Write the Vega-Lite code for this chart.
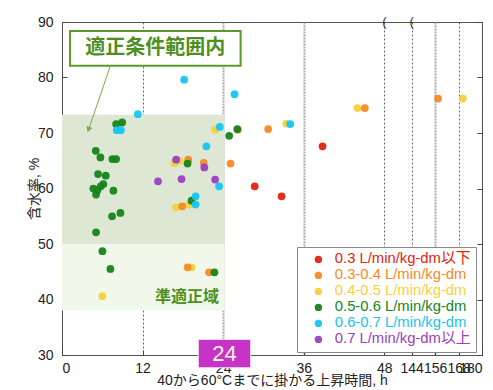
{
  "$schema": "https://vega.github.io/schema/vega-lite/v6.json",
  "width": 420,
  "height": 333,
  "autosize": "none",
  "padding": {"left": 62, "top": 22, "right": 11, "bottom": 35},
  "config": {
    "font": "Liberation Sans, Noto Sans CJK JP",
    "view": {"stroke": "#555", "strokeWidth": 1}
  },
  "resolve": {"axis": {"y": "independent"}},
  "datasets": {
    "pts": [
      {"h": 6.02, "w": 40.6, "c": "0.4-0.5 L/min/kg-dm"},
      {"h": 16.7, "w": 64.6, "c": "0.4-0.5 L/min/kg-dm"},
      {"h": 17.5, "w": 65.0, "c": "0.4-0.5 L/min/kg-dm"},
      {"h": 22.8, "w": 70.6, "c": "0.4-0.5 L/min/kg-dm"},
      {"h": 17.0, "w": 56.6, "c": "0.4-0.5 L/min/kg-dm"},
      {"h": 18.9, "w": 57.1, "c": "0.4-0.5 L/min/kg-dm"},
      {"h": 19.3, "w": 45.8, "c": "0.4-0.5 L/min/kg-dm"},
      {"h": 33.4, "w": 71.7, "c": "0.4-0.5 L/min/kg-dm"},
      {"h": 44.0, "w": 74.5, "c": "0.4-0.5 L/min/kg-dm"},
      {"h": 170.2, "w": 76.2, "c": "0.4-0.5 L/min/kg-dm"},
      {"h": 18.8, "w": 65.2, "c": "0.3-0.4 L/min/kg-dm"},
      {"h": 21.1, "w": 64.6, "c": "0.3-0.4 L/min/kg-dm"},
      {"h": 25.1, "w": 64.5, "c": "0.3-0.4 L/min/kg-dm"},
      {"h": 17.9, "w": 56.8, "c": "0.3-0.4 L/min/kg-dm"},
      {"h": 18.7, "w": 45.8, "c": "0.3-0.4 L/min/kg-dm"},
      {"h": 21.9, "w": 44.9, "c": "0.3-0.4 L/min/kg-dm"},
      {"h": 30.7, "w": 70.7, "c": "0.3-0.4 L/min/kg-dm"},
      {"h": 26.2, "w": 70.6, "c": "0.3-0.4 L/min/kg-dm"},
      {"h": 45.1, "w": 74.5, "c": "0.3-0.4 L/min/kg-dm"},
      {"h": 157.5, "w": 76.2, "c": "0.3-0.4 L/min/kg-dm"},
      {"h": 38.8, "w": 67.6, "c": "0.3 L/min/kg-dm以下"},
      {"h": 28.7, "w": 60.4, "c": "0.3 L/min/kg-dm以下"},
      {"h": 32.7, "w": 58.6, "c": "0.3 L/min/kg-dm以下"},
      {"h": 8.06, "w": 71.6, "c": "0.5-0.6 L/min/kg-dm"},
      {"h": 8.96, "w": 71.9, "c": "0.5-0.6 L/min/kg-dm"},
      {"h": 5.03, "w": 66.8, "c": "0.5-0.6 L/min/kg-dm"},
      {"h": 5.72, "w": 65.6, "c": "0.5-0.6 L/min/kg-dm"},
      {"h": 7.5, "w": 65.3, "c": "0.5-0.6 L/min/kg-dm"},
      {"h": 8.06, "w": 65.3, "c": "0.5-0.6 L/min/kg-dm"},
      {"h": 5.37, "w": 62.6, "c": "0.5-0.6 L/min/kg-dm"},
      {"h": 6.52, "w": 62.3, "c": "0.5-0.6 L/min/kg-dm"},
      {"h": 4.67, "w": 60.0, "c": "0.5-0.6 L/min/kg-dm"},
      {"h": 5.27, "w": 59.7, "c": "0.5-0.6 L/min/kg-dm"},
      {"h": 5.77, "w": 60.4, "c": "0.5-0.6 L/min/kg-dm"},
      {"h": 6.16, "w": 60.8, "c": "0.5-0.6 L/min/kg-dm"},
      {"h": 5.07, "w": 58.9, "c": "0.5-0.6 L/min/kg-dm"},
      {"h": 7.66, "w": 59.6, "c": "0.5-0.6 L/min/kg-dm"},
      {"h": 7.46, "w": 55.0, "c": "0.5-0.6 L/min/kg-dm"},
      {"h": 8.7, "w": 55.6, "c": "0.5-0.6 L/min/kg-dm"},
      {"h": 5.07, "w": 52.1, "c": "0.5-0.6 L/min/kg-dm"},
      {"h": 6.02, "w": 48.7, "c": "0.5-0.6 L/min/kg-dm"},
      {"h": 7.21, "w": 45.5, "c": "0.5-0.6 L/min/kg-dm"},
      {"h": 18.7, "w": 64.5, "c": "0.5-0.6 L/min/kg-dm"},
      {"h": 19.3, "w": 57.8, "c": "0.5-0.6 L/min/kg-dm"},
      {"h": 22.7, "w": 44.9, "c": "0.5-0.6 L/min/kg-dm"},
      {"h": 24.9, "w": 69.5, "c": "0.5-0.6 L/min/kg-dm"},
      {"h": 26.1, "w": 70.7, "c": "0.5-0.6 L/min/kg-dm"},
      {"h": 11.3, "w": 73.4, "c": "0.6-0.7 L/min/kg-dm"},
      {"h": 8.16, "w": 70.5, "c": "0.6-0.7 L/min/kg-dm"},
      {"h": 8.76, "w": 70.5, "c": "0.6-0.7 L/min/kg-dm"},
      {"h": 18.2, "w": 79.6, "c": "0.6-0.7 L/min/kg-dm"},
      {"h": 25.7, "w": 77.0, "c": "0.6-0.7 L/min/kg-dm"},
      {"h": 21.5, "w": 67.6, "c": "0.6-0.7 L/min/kg-dm"},
      {"h": 23.5, "w": 71.1, "c": "0.6-0.7 L/min/kg-dm"},
      {"h": 23.4, "w": 60.4, "c": "0.6-0.7 L/min/kg-dm"},
      {"h": 19.9, "w": 58.6, "c": "0.6-0.7 L/min/kg-dm"},
      {"h": 19.9, "w": 57.1, "c": "0.6-0.7 L/min/kg-dm"},
      {"h": 34.0, "w": 71.6, "c": "0.6-0.7 L/min/kg-dm"},
      {"h": 14.3, "w": 61.3, "c": "0.7 L/min/kg-dm以上"},
      {"h": 17.8, "w": 61.7, "c": "0.7 L/min/kg-dm以上"},
      {"h": 17.0, "w": 65.2, "c": "0.7 L/min/kg-dm以上"},
      {"h": 21.2, "w": 63.8, "c": "0.7 L/min/kg-dm以上"},
      {"h": 22.8, "w": 61.6, "c": "0.7 L/min/kg-dm以上"}
    ]
  },
  "layer": [
    {
      "data": {"values": [{"x1": 0, "x2": 24.2, "y1": 38, "y2": 50}]},
      "mark": {"type": "rect", "color": "#f1f8ea"},
      "encoding": {
        "x": {"field": "x1", "type": "quantitative"},
        "x2": {"field": "x2"},
        "y": {"field": "y1", "type": "quantitative", "axis": null},
        "y2": {"field": "y2"}
      }
    },
    {
      "data": {"values": [{"x1": 0, "x2": 24.2, "y1": 50, "y2": 73.3}]},
      "mark": {"type": "rect", "color": "#dde7d3"},
      "encoding": {
        "x": {"field": "x1", "type": "quantitative"},
        "x2": {"field": "x2"},
        "y": {"field": "y1", "type": "quantitative",
          "axis": {"orient": "right", "title": null, "labels": false, "domain": false, "values": [30, 40, 50, 60, 70, 80, 90], "tickSize": -5, "tickColor": "#444", "grid": false}},
        "y2": {"field": "y2"}
      }
    },
    {
      "data": {"name": "pts"},
      "mark": {"type": "circle", "size": 60, "opacity": 0.95},
      "encoding": {
        "x": {
          "field": "h", "type": "quantitative",
          "scale": {"domain": [0, 48, 144, 180], "range": [0, 322.3, 349.7, 420], "zero": false, "nice": false},
          "axis": {
            "title": "40から60°Cまでに掛かる上昇時間, h",
            "titleFontSize": 14, "titleFontWeight": "normal", "titleColor": "#222", "titlePadding": -2,
            "values": [0, 12, 24, 36, 48, 144, 156, 168, 180],
            "labelOverlap": false, "labelFontSize": 14, "labelColor": "#222", "labelPadding": 11,
            "domain": false, "tickSize": -5, "tickColor": "#444",
            "grid": true,
            "gridColor": {"condition": {"test": "indexof([24, 36, 156], datum.value) >= 0", "value": "#aaaaaa"}, "value": "#444444"},
            "gridWidth": {"condition": {"test": "indexof([24, 36, 156], datum.value) >= 0", "value": 2}, "value": 0.8},
            "gridDash": {"condition": {"test": "indexof([24, 36, 156], datum.value) >= 0", "value": [2, 1]}, "value": [2, 2]}
          }
        },
        "y": {
          "field": "w", "type": "quantitative",
          "scale": {"domain": [30, 90], "zero": false, "nice": false},
          "axis": {
            "title": "含水率, %", "titleFontSize": 14, "titleFontWeight": "normal", "titleColor": "#222", "titlePadding": -4,
            "values": [30, 40, 50, 60, 70, 80, 90],
            "labelFontSize": 14, "labelColor": "#222", "labelPadding": 14,
            "domain": false, "tickSize": -5, "tickColor": "#444", "grid": false
          }
        },
        "color": {
          "field": "c", "type": "nominal",
          "scale": {
            "domain": ["0.3 L/min/kg-dm以下", "0.3-0.4 L/min/kg-dm", "0.4-0.5 L/min/kg-dm", "0.5-0.6 L/min/kg-dm", "0.6-0.7 L/min/kg-dm", "0.7 L/min/kg-dm以上"],
            "range": ["#e2230f", "#f68a24", "#f6d13c", "#14851a", "#14c6f3", "#9a40c2"]
          },
          "legend": {
            "orient": "none", "legendX": 235, "legendY": 225, "title": null,
            "fillColor": "white", "strokeColor": "#888", "padding": 5,
            "symbolType": "circle", "symbolSize": 55, "symbolOffset": 9, "symbolStrokeWidth": 0,
            "labelFontSize": 14.8, "labelOffset": 9, "rowPadding": 0,
            "labelColor": {"expr": "scale('color', datum.value)"}
          }
        }
      }
    },
    {
      "data": {"values": [{"x1": 7.16, "y1": 81.95, "x2": 3.9, "y2": 70.4}]},
      "mark": {"type": "rule", "color": "#78ad4a", "strokeWidth": 1},
      "encoding": {
        "x": {"field": "x1", "type": "quantitative"},
        "y": {"field": "y1", "type": "quantitative", "axis": null},
        "x2": {"field": "x2"},
        "y2": {"field": "y2"}
      }
    },
    {
      "data": {"values": [{"x": 3.95, "y": 70.6}]},
      "mark": {"type": "point", "shape": "triangle-up", "filled": true, "color": "#78ad4a", "size": 40, "angle": 199, "opacity": 1},
      "encoding": {
        "x": {"field": "x", "type": "quantitative"},
        "y": {"field": "y", "type": "quantitative", "axis": null}
      }
    },
    {
      "data": {"values": [{"x1": 1.2, "x2": 26.6, "y1": 82.1, "y2": 88.4}]},
      "mark": {"type": "rect", "fill": "white", "stroke": "#5a9a2a", "strokeWidth": 2},
      "encoding": {
        "x": {"field": "x1", "type": "quantitative"},
        "x2": {"field": "x2"},
        "y": {"field": "y1", "type": "quantitative", "axis": null},
        "y2": {"field": "y2"}
      }
    },
    {
      "data": {"values": [{"x": 13.9, "y": 85.3, "t": "適正条件範囲内"}, {"x": 18.6, "y": 40.45, "t": "準適正域"}]},
      "mark": {"type": "text", "color": "#4f8f22", "fontWeight": "bold", "font": "Noto Sans CJK JP"},
      "encoding": {
        "x": {"field": "x", "type": "quantitative"},
        "y": {"field": "y", "type": "quantitative", "axis": null},
        "text": {"field": "t"},
        "size": {"condition": {"test": "datum.t === '準適正域'", "value": 16}, "value": 20}
      }
    },
    {
      "data": {"values": [{"x": 48, "y": 90}, {"x": 144, "y": 90}]},
      "mark": {"type": "text", "text": "(", "fontSize": 13, "color": "#333"},
      "encoding": {
        "x": {"field": "x", "type": "quantitative"},
        "y": {"field": "y", "type": "quantitative", "axis": null}
      }
    },
    {
      "data": {"values": [{"x1": 20.3, "x2": 28.1, "y1": 27.7, "y2": 32.8}]},
      "mark": {"type": "rect", "fill": "#c633c6", "stroke": "#f4e0f4", "strokeWidth": 1},
      "encoding": {
        "x": {"field": "x1", "type": "quantitative"},
        "x2": {"field": "x2"},
        "y": {"field": "y1", "type": "quantitative", "axis": null},
        "y2": {"field": "y2"}
      }
    },
    {
      "data": {"values": [{"x": 24.2, "y": 30.25, "t": "24"}]},
      "mark": {"type": "text", "color": "#fff8e2", "fontSize": 22, "baseline": "middle"},
      "encoding": {
        "x": {"field": "x", "type": "quantitative"},
        "y": {"field": "y", "type": "quantitative", "axis": null},
        "text": {"field": "t"}
      }
    }
  ]
}
